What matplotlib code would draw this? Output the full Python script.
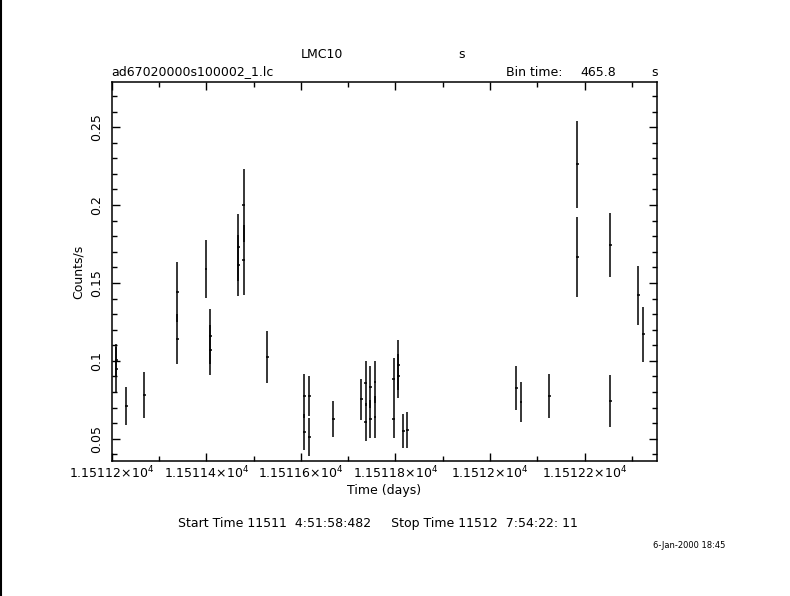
import numpy as np
import matplotlib
matplotlib.use('Agg')
import matplotlib.pyplot as plt
from matplotlib.ticker import FixedLocator, MultipleLocator

### Light curve values (days, counts/s)
time = [11511.2097, 11511.2097, 11511.2309, 11511.2689, 11511.3387, 11511.3387,
        11511.3994, 11511.4085, 11511.4085, 11511.4677, 11511.4677, 11511.4791,
        11511.4791, 11511.5290, 11511.6072, 11511.6072, 11511.6178, 11511.6178,
        11511.6685, 11511.7277, 11511.7370, 11511.7370, 11511.7467, 11511.7467,
        11511.7567, 11511.7567, 11511.7962, 11511.7962, 11511.8059, 11511.8059,
        11511.8165, 11511.8250, 11512.0554, 11512.0653, 11512.1251, 11512.1843,
        11512.1843, 11512.2541, 11512.2541, 11512.3133, 11512.3239]
rate = [0.1005, 0.0946, 0.0710, 0.0780, 0.1442, 0.1140,
        0.1590, 0.1157, 0.1068, 0.1729, 0.1613, 0.1998,
        0.1647, 0.1024, 0.0774, 0.0543, 0.0774, 0.0511,
        0.0626, 0.0753, 0.0856, 0.0607, 0.0832, 0.0626,
        0.0864, 0.0639, 0.0883, 0.0626, 0.0971, 0.0903,
        0.0549, 0.0556, 0.0825, 0.0736, 0.0774, 0.2261,
        0.1666, 0.1744, 0.0740, 0.1420, 0.1170]
rate_err = [0.0100, 0.0144, 0.0125, 0.0150, 0.0192, 0.0158,
            0.0188, 0.0176, 0.0161, 0.0215, 0.0195, 0.0234,
            0.0222, 0.0169, 0.0141, 0.0114, 0.0130, 0.0120,
            0.0118, 0.0130, 0.0143, 0.0120, 0.0137, 0.0120,
            0.0135, 0.0135, 0.0137, 0.0120, 0.0160, 0.0140,
            0.0108, 0.0114, 0.0143, 0.0127, 0.0140, 0.0278,
            0.0259, 0.0207, 0.0166, 0.0188, 0.0176]
bin_time = 465.8  # seconds
half_bin = bin_time / 86400 / 2

x_ticks = [11511.2, 11511.4, 11511.6, 11511.8, 11512.0, 11512.2]
x_tick_labels = ['1.15112', '1.15114', '1.15116', '1.15118', '1.1512', '1.15122']
y_ticks = [0.05, 0.1, 0.15, 0.2, 0.25]
y_tick_labels = ['0.05', '0.1', '0.15', '0.2', '0.25']

W, H = 790, 596
fig = plt.figure(figsize=(W / 100, H / 100), dpi=100)
ax = fig.add_axes([111.7 / W, 1 - 461.3 / H, (657.3 - 111.7) / W, (461.3 - 82) / H])

ax.errorbar(time, rate, yerr=rate_err, xerr=half_bin, fmt='none',
            ecolor='black', elinewidth=1.1, capsize=0)

ax.set_xlim(11511.2, 11512.3535)
ax.set_ylim(0.0355, 0.279)

ax.xaxis.set_major_locator(FixedLocator(x_ticks))
ax.set_xticklabels([l + r'$\times$10$^4$' for l in x_tick_labels])
ax.xaxis.set_minor_locator(MultipleLocator(0.1))
ax.yaxis.set_major_locator(FixedLocator(y_ticks))
ax.set_yticklabels(y_tick_labels, rotation=90, va='center')
ax.yaxis.set_minor_locator(MultipleLocator(0.01))

ax.tick_params(which='both', direction='in', top=True, right=True, width=1, color='black')
ax.tick_params(which='major', length=6)
ax.tick_params(which='minor', length=3.5)
ax.tick_params(axis='x', labelsize=9, pad=2.5)
ax.tick_params(axis='y', labelsize=9, pad=6)
for s in ax.spines.values():
    s.set_linewidth(1.1)

ax.set_xlabel('Time (days)', fontsize=9, labelpad=2)
ax.set_ylabel('Counts/s', fontsize=9, labelpad=4)

# Header and footer texts
def put(x, y, s, **kw):
    fig.text(x / W, 1 - y / H, s, va='center', **kw)

put(322, 54, 'LMC10', ha='center', fontsize=9)
put(462, 54, 's', ha='center', fontsize=9)
put(111, 72, 'ad67020000s100002_1.lc', ha='left', fontsize=9)
put(506, 72, 'Bin time:', ha='left', fontsize=9)
put(616, 72, '465.8', ha='right', fontsize=9)
put(655, 72, 's', ha='center', fontsize=9)
put(178, 524, 'Start Time 11511  4:51:58:482     Stop Time 11512  7:54:22: 11',
    ha='left', fontsize=9)
put(725, 545, '6-Jan-2000 18:45', ha='right', fontsize=6)

# black border line at the left edge of the page
fig.add_artist(plt.Line2D([0.5 / W, 0.5 / W], [0, 1], color='black', lw=1.5,
                          transform=fig.transFigure))

fig.savefig('out.png', dpi=100)
